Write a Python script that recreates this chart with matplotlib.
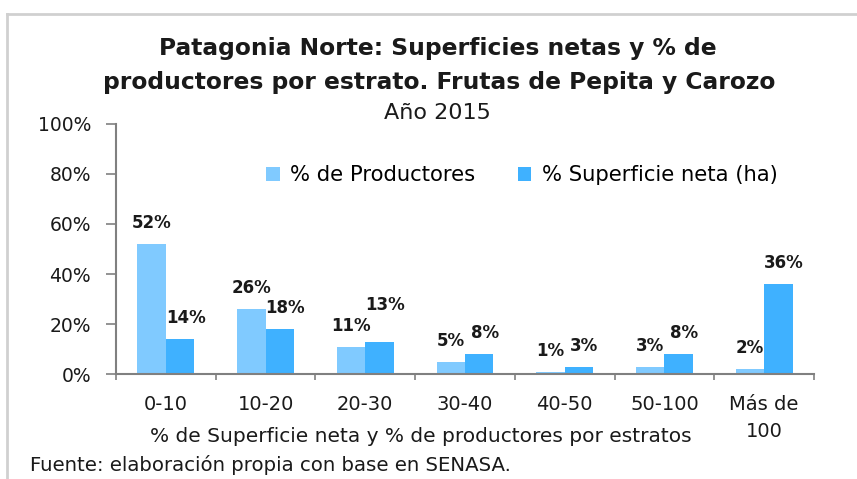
import matplotlib
matplotlib.use("Agg")
import matplotlib.pyplot as plt
from matplotlib.lines import Line2D
import numpy as np

# datos
estratos = ['0-10', '10-20', '20-30', '30-40', '40-50', '50-100', 'Más de\n100']
productores = [52, 26, 11, 5, 1, 3, 2]
superficie = [14, 18, 13, 8, 3, 8, 36]
y_ticks = [0, 20, 40, 60, 80, 100]

light = '#80CAFF'
dark = '#3FB1FF'
axis_gray = '#808080'
txt = '#1a1a1a'

plt.rcParams['font.family'] = ['DejaVu Sans']

fig = plt.figure(figsize=(8.57, 4.79), dpi=100)
ax = fig.add_axes([116/857, 1 - 374/479, 698/857, 250/479])

x = np.arange(len(estratos)) + 0.5
w = 0.285
b1 = ax.bar(x - w/2, productores, w, color=light, label='% de Productores')
b2 = ax.bar(x + w/2, superficie, w, color=dark, label='% Superficie neta (ha)')

# etiquetas: las de superficie algo corridas a la derecha, como en Excel
for bars, vals, dx in ((b1, productores, 0), (b2, superficie, 4)):
    for i, (rect, v) in enumerate(zip(bars, vals)):
        dy = 15
        if dx and i == 2:
            dy = 26  # Excel la sube para no chocar con "11%"
        ax.annotate('{0}%'.format(v),
                    (rect.get_x() + rect.get_width()/2, rect.get_height()),
                    xytext=(dx, dy), textcoords='offset points',
                    ha='center', va='center', fontsize=12, fontweight='bold',
                    color=txt)

ax.set_xlim(0, len(estratos))
ax.set_ylim(0, 100)
ax.set_yticks(y_ticks)
ax.set_yticklabels(['{0}%'.format(t) for t in y_ticks], fontsize=13.5, color=txt)
ax.set_xticks(np.arange(len(estratos) + 1))
ax.set_xticklabels([])
ax.set_xticks(x, minor=True)
ax.set_xticklabels(estratos, minor=True, fontsize=14, color=txt, linespacing=1.55)
ax.tick_params(axis='x', which='minor', length=0, pad=15)
ax.tick_params(axis='x', which='major', length=4, color=axis_gray, width=1.2)
ax.tick_params(axis='y', length=7, color=axis_gray, width=1.2, pad=11)
for s in ('top', 'right'):
    ax.spines[s].set_visible(False)
for s in ('left', 'bottom'):
    ax.spines[s].set_color(axis_gray)
    ax.spines[s].set_linewidth(1.5)

fig.text(438/857, 1 - 49/479, 'Patagonia Norte: Superficies netas y % de',
         ha='center', va='center', fontsize=16.8, fontweight='bold', color=txt)
fig.text(439/857, 1 - 82/479, 'productores por estrato. Frutas de Pepita y Carozo',
         ha='center', va='center', fontsize=16.8, fontweight='bold', color=txt)
fig.text(437/857, 1 - 113/479, 'Año 2015', ha='center', va='center',
         fontsize=16, color=txt)

fig.text(421/857, 1 - 437/479, '% de Superficie neta y % de productores por estratos',
         ha='center', va='center', fontsize=14.5, color=txt)
fig.text(30/857, 1 - 465/479, 'Fuente: elaboración propia con base en SENASA.',
         ha='left', va='center', fontsize=14.2, color=txt)

leg = ax.legend(loc='center left', bbox_to_anchor=((266 - 116)/698, (374 - 175)/250),
                ncol=2, frameon=False, fontsize=15.2, handlelength=0.65,
                handleheight=0.65, columnspacing=2.0, handletextpad=0.5,
                borderaxespad=0, borderpad=0)

# marco gris del grafico
fig.add_artist(Line2D([7/857, 7/857], [0, 1 - 14/479], color='#d0d0d0', lw=2,
                      transform=fig.transFigure))
fig.add_artist(Line2D([7/857, 1], [1 - 14/479, 1 - 14/479], color='#d0d0d0', lw=2,
                      transform=fig.transFigure))

fig.savefig('out.png', dpi=100)
